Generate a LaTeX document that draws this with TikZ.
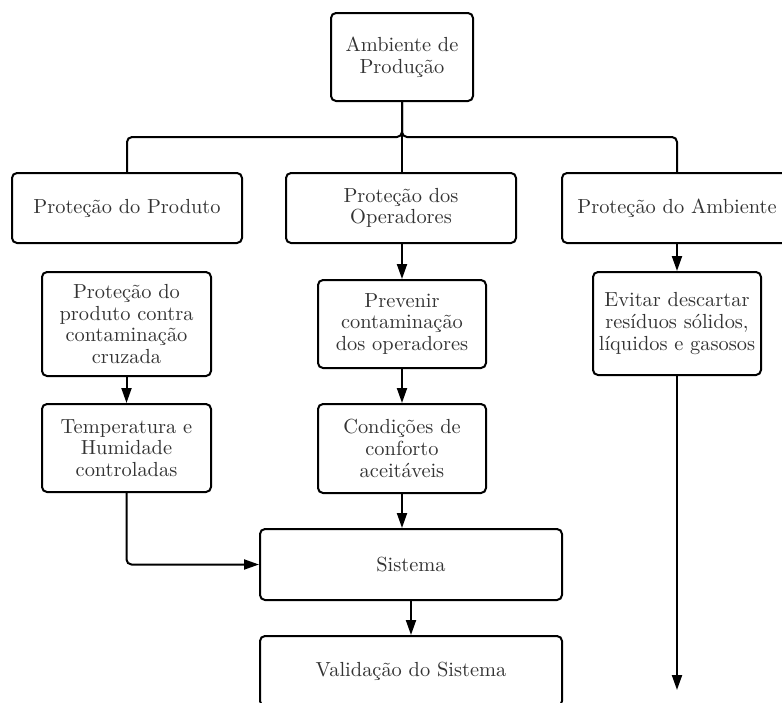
\documentclass[tikz,border=0pt]{standalone}
\usetikzlibrary{arrows.meta}
\definecolor{txt}{HTML}{333333}
\begin{document}
\begin{tikzpicture}[x=0.5pt,y=-0.5pt,
  box/.style={draw=black, line width=1pt, rounded corners=2.5pt, inner sep=0pt,
    align=center, text=txt, font=\fontsize{10.2}{10.8}\selectfont},
  conn/.style={draw=black, line width=1pt, rounded corners=2.5pt},
  arr/.style={conn, -{Triangle[length=7.5pt,width=5pt]}}]
\useasboundingbox (0,0) rectangle (782,702);
\clip (0,0) rectangle (782,702);
\node[box, minimum width=71pt, minimum height=44pt] (top) at (402,57) {Ambiente de\\Produção};
\node[box, minimum width=115pt, minimum height=35pt] (prod) at (127,208) {Proteção do Produto};
\node[box, minimum width=115pt, minimum height=35pt] (oper) at (401,208) {Proteção dos\\Operadores};
\node[box, minimum width=115pt, minimum height=35pt] (amb) at (677,208) {Proteção do Ambiente};
\node[box, minimum width=84.5pt, minimum height=52pt] (cruz) at (126.5,324) {Proteção do\\produto contra\\contaminação\\cruzada};
\node[box, minimum width=84.5pt, minimum height=44pt] (temp) at (126.5,448) {Temperatura e\\Humidade\\controladas};
\node[box, minimum width=84pt, minimum height=44pt] (prev) at (402,324) {Prevenir\\contaminação\\dos operadores};
\node[box, minimum width=84pt, minimum height=44.5pt] (cond) at (402,448.5) {Condições de\\conforto\\aceitáveis};
\node[box, minimum width=84pt, minimum height=51.5pt] (evit) at (677,323.5) {Evitar descartar\\resíduos sólidos,\\líquidos e gasosos};
\node[box, minimum width=151pt, minimum height=35.5pt] (sist) at (411,564.5) {Sistema};
\node[box, minimum width=151pt, minimum height=35pt] (valid) at (411,671) {Validação do Sistema};
\coordinate (j) at (402,137);
\coordinate (evend) at (677,690);
\draw[conn] (top.south) -- (j) -| (prod.north);
\draw[conn] (top.south) -- (j) -| (amb.north);
\draw[conn] (top.south) -- (top.south |- oper.north);
\draw[arr] (cruz.south) -- (temp.north);
\draw[arr] (oper.south -| prev.north) -- (prev.north);
\draw[arr] (prev.south) -- (cond.north);
\draw[arr] (cond.south) -- (cond.south |- sist.north);
\draw[arr] (temp.south) |- (sist.west);
\draw[arr] (sist.south) -- (valid.north);
\draw[arr] (amb.south) -- (evit.north);
\draw[arr] (evit.south) -- (evend);
\end{tikzpicture}
\end{document}
